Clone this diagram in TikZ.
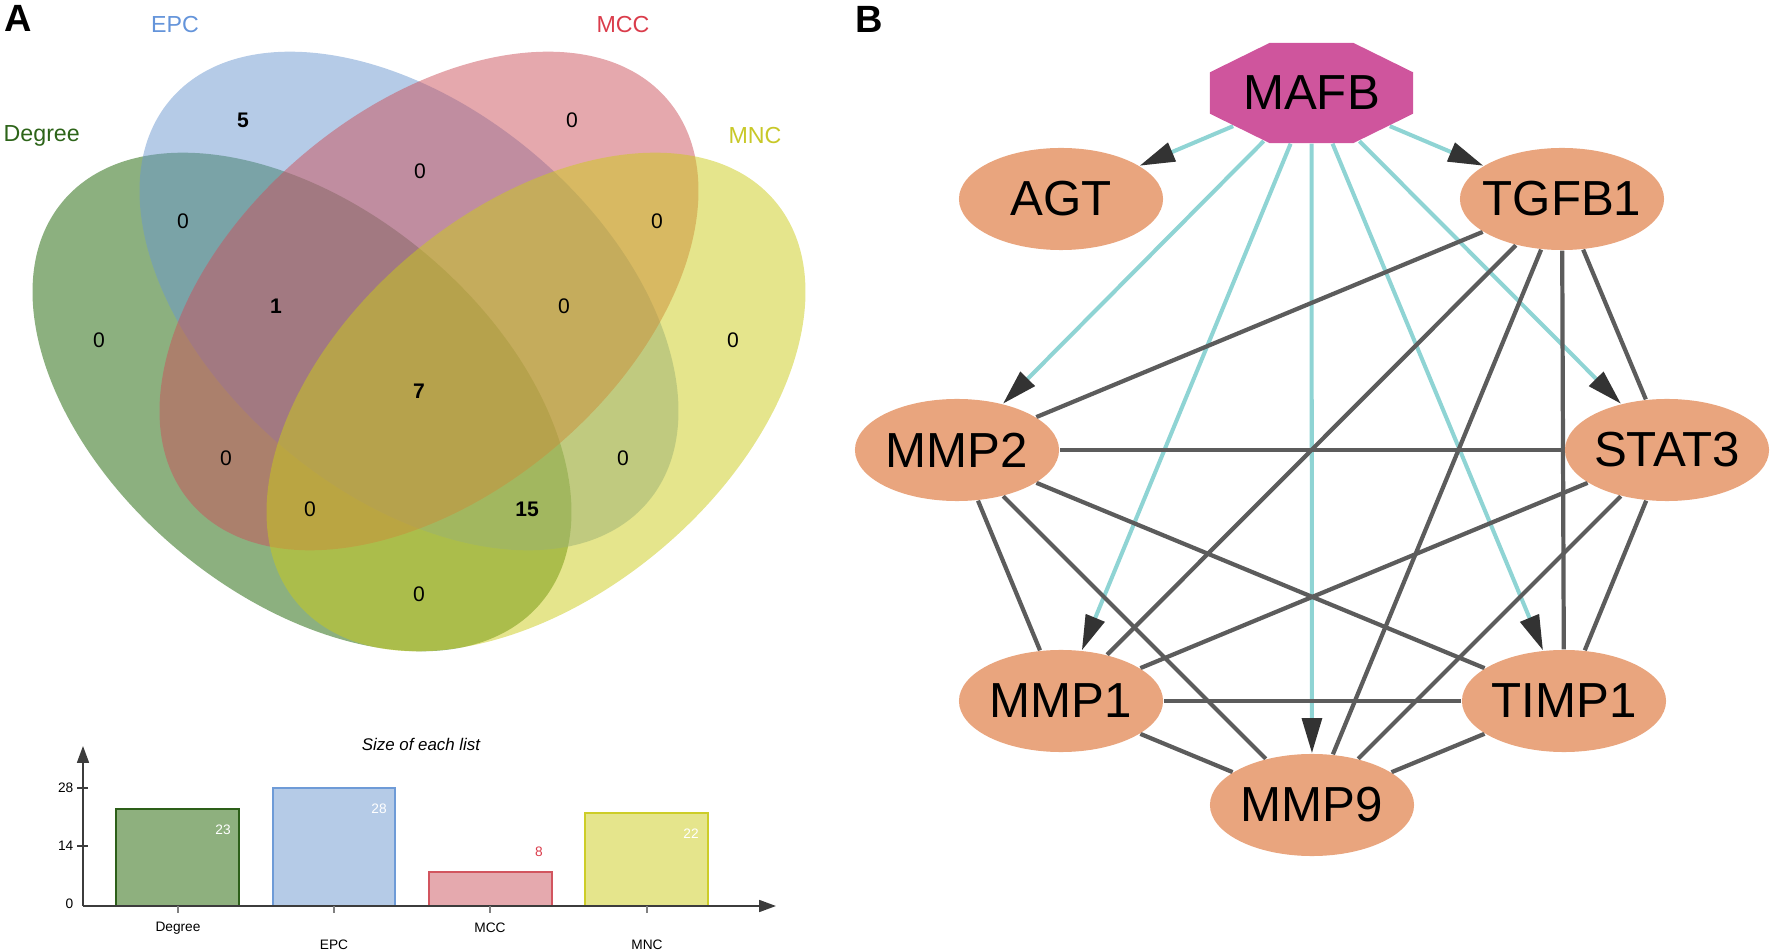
\documentclass[tikz,border=0pt]{standalone}
\usepackage{fontspec}
\setmainfont{Liberation Sans}
\usetikzlibrary{shapes.geometric,arrows.meta,backgrounds}
\definecolor{vgreen}{RGB}{25,97,0}
\definecolor{vblue}{RGB}{107,151,207}
\definecolor{vred}{RGB}{203,81,91}
\definecolor{vyellow}{RGB}{203,203,25}
\definecolor{lgreen}{RGB}{45,100,25}
\definecolor{lblue}{RGB}{100,148,218}
\definecolor{lred}{RGB}{218,60,75}
\definecolor{lyellow}{RGB}{200,200,40}
\definecolor{bgreen}{RGB}{142,176,126}
\definecolor{bblue}{RGB}{181,203,231}
\definecolor{bred}{RGB}{229,169,174}
\definecolor{byellow}{RGB}{229,229,140}
\definecolor{dgreen}{RGB}{45,95,25}
\definecolor{dblue}{RGB}{110,155,215}
\definecolor{dred}{RGB}{210,85,95}
\definecolor{dyellow}{RGB}{205,205,40}
\definecolor{genefill}{RGB}{233,165,126}
\definecolor{tffill}{RGB}{207,85,157}
\definecolor{tealedge}{RGB}{143,212,212}
\definecolor{edgegray}{RGB}{92,92,92}
\definecolor{arrowgray}{RGB}{51,51,51}
\definecolor{axisgray}{RGB}{60,60,60}
\newcommand{\zw}[1]{\makebox[0pt]{#1}}
\begin{document}
\begin{tikzpicture}[x=0.01cm,y=-0.01cm,
  vnum/.style={font=\fontsize{6}{7}\selectfont, inner sep=0pt},
  setlab/.style={font=\fontsize{6.6}{8}\selectfont, inner sep=0pt},
  panel/.style={font=\fontsize{10.8}{12}\selectfont\bfseries, inner sep=0pt},
  btext/.style={font=\fontsize{3.9}{5}\selectfont, inner sep=0pt},
  gene/.style={ellipse, fill=genefill, minimum width=2.04cm, minimum height=1.02cm, inner sep=0pt, font=\fontsize{14}{16}\selectfont},
  gedge/.style={draw=edgegray, line width=1.2pt},
  tedge/.style={draw=tealedge, line width=1.15pt, -{Triangle[length=10pt,width=5.6pt,color=arrowgray]}},
  axisline/.style={draw=axisgray, line width=0.5pt},
]
\useasboundingbox (0,0) rectangle (1772,952);

% ---------------- Panel A: Venn ----------------
\fill[vgreen,fill opacity=0.5,rotate around={-40:(302,402)}] (302,402) ellipse [x radius=3.12cm,y radius=1.93cm];
\fill[vblue,fill opacity=0.5,rotate around={-40:(409,301)}] (409,301) ellipse [x radius=3.12cm,y radius=1.93cm];
\fill[vred,fill opacity=0.5,rotate around={40:(429,301)}] (429,301) ellipse [x radius=3.12cm,y radius=1.93cm];
\fill[vyellow,fill opacity=0.5,rotate around={40:(536,402)}] (536,402) ellipse [x radius=3.12cm,y radius=1.93cm];

\node[panel] (labA) at (18,18) {A};
\node[setlab, text=lgreen, anchor=west] (labDeg) at (3,136) {Degree};
\node[setlab, text=lblue] (labEPC) at (175,25) {EPC};
\node[setlab, text=lred] (labMCC) at (623,25) {MCC};
\node[setlab, text=lyellow] (labMNC) at (755,136) {MNC};

\node[vnum] (v1) at (243,120) {\textbf{5}};
\node[vnum] (v2) at (572,120) {0};
\node[vnum] (v3) at (420,171) {0};
\node[vnum] (v4) at (183,221) {0};
\node[vnum] (v5) at (657,221) {0};
\node[vnum] (v6) at (276,306) {\textbf{1}};
\node[vnum] (v7) at (564,306) {0};
\node[vnum] (v8) at (99,340) {0};
\node[vnum] (v9) at (733,340) {0};
\node[vnum] (v10) at (419,391) {\textbf{7}};
\node[vnum] (v11) at (226,458) {0};
\node[vnum] (v12) at (623,458) {0};
\node[vnum] (v13) at (310,509) {0};
\node[vnum] (v14) at (527,509) {\textbf{15}};
\node[vnum] (v15) at (419,594) {0};

% ---------------- Bar chart ----------------
\filldraw[fill=bgreen, draw=dgreen, line width=0.45pt] (116,809) rectangle (239,906);
\filldraw[fill=bblue, draw=dblue, line width=0.45pt] (273,788) rectangle (395,906);
\filldraw[fill=bred, draw=dred, line width=0.45pt] (429,872) rectangle (552,906);
\filldraw[fill=byellow, draw=dyellow, line width=0.45pt] (585,813) rectangle (708,906);

\draw[axisline, -{Triangle[length=4.8pt,width=3.4pt,color=axisgray]}] (83,906) -- (83,746);
\draw[axisline, -{Triangle[length=4.8pt,width=3.4pt,color=axisgray]}] (83,906) -- (776,906);
\foreach \yy in {788,846} \draw[axisline, line width=0.3pt] (77,\yy) -- (88,\yy);
\foreach \xx in {178,334,490,647} \draw[axisline, draw=gray, line width=0.4pt] (\xx,906) -- (\xx,913);

\node[btext, anchor=east] (t28) at (74,788) {28};
\node[btext, anchor=east] (t14) at (74,846) {14};
\node[btext, anchor=east] (t0) at (74,904) {0};

\node[btext, text=white] (b23) at (223,830) {23};
\node[btext, text=white] (b28) at (379,809) {28};
\node[btext, text=lred] (b8) at (539,852) {8};
\node[btext, text=white] (b22) at (691,834) {22};

\node[btext] (cDeg) at (178,928) {Degree};
\node[btext] (cEPC) at (334,945) {EPC};
\node[btext] (cMCC) at (490,928) {MCC};
\node[btext] (cMNC) at (647,945) {MNC};

\node[font=\fontsize{4.8}{6}\selectfont\itshape, inner sep=0pt] (title) at (421,744) {Size of each list};

% ---------------- Panel B: network ----------------
\node[panel] (labB) at (869,19.5) {B};

\begin{scope}[shift={(1311.5,93)}, xscale=2.031]
  \node[regular polygon, regular polygon sides=8, minimum size=1.082cm, inner sep=0pt, fill=tffill, transform shape] (MAFB) at (0,0) {};
\end{scope}
\node[font=\fontsize{14}{16}\selectfont, inner sep=0pt] (MAFBtext) at (MAFB.center) {MAFB};

\node[gene] (AGT) at (1061,199) {\zw{AGT}};
\node[gene] (TGFB1) at (1562,199) {\zw{TGFB1}};
\node[gene] (MMP2) at (957,450) {\zw{MMP2}};
\node[gene] (STAT3) at (1667,450) {\zw{STAT3}};
\node[gene] (MMP1) at (1061,701) {\zw{MMP1}};
\node[gene] (TIMP1) at (1564,701) {\zw{TIMP1}};
\node[gene] (MMP9) at (1312,805) {\zw{MMP9}};

\begin{scope}[on background layer]
  \draw[tedge] (MAFB) -- (AGT);
  \draw[tedge] (MAFB) -- (TGFB1);
  \draw[tedge] (MAFB) -- (MMP2);
  \draw[tedge] (MAFB) -- (MMP1);
  \draw[tedge] (MAFB) -- (MMP9);
  \draw[tedge] (MAFB) -- (TIMP1);
  \draw[tedge] (MAFB) -- (STAT3);
  \draw[gedge] (TGFB1) -- (MMP2);
  \draw[gedge] (TGFB1) -- (MMP1);
  \draw[gedge] (TGFB1) -- (MMP9);
  \draw[gedge] (TGFB1) -- (TIMP1);
  \draw[gedge] (TGFB1) -- (STAT3);
  \draw[gedge] (MMP2) -- (STAT3);
  \draw[gedge] (MMP2) -- (MMP1);
  \draw[gedge] (MMP2) -- (MMP9);
  \draw[gedge] (MMP2) -- (TIMP1);
  \draw[gedge] (STAT3) -- (MMP1);
  \draw[gedge] (STAT3) -- (MMP9);
  \draw[gedge] (STAT3) -- (TIMP1);
  \draw[gedge] (MMP1) -- (TIMP1);
  \draw[gedge] (MMP1) -- (MMP9);
  \draw[gedge] (TIMP1) -- (MMP9);
\end{scope}
\end{tikzpicture}
\end{document}
